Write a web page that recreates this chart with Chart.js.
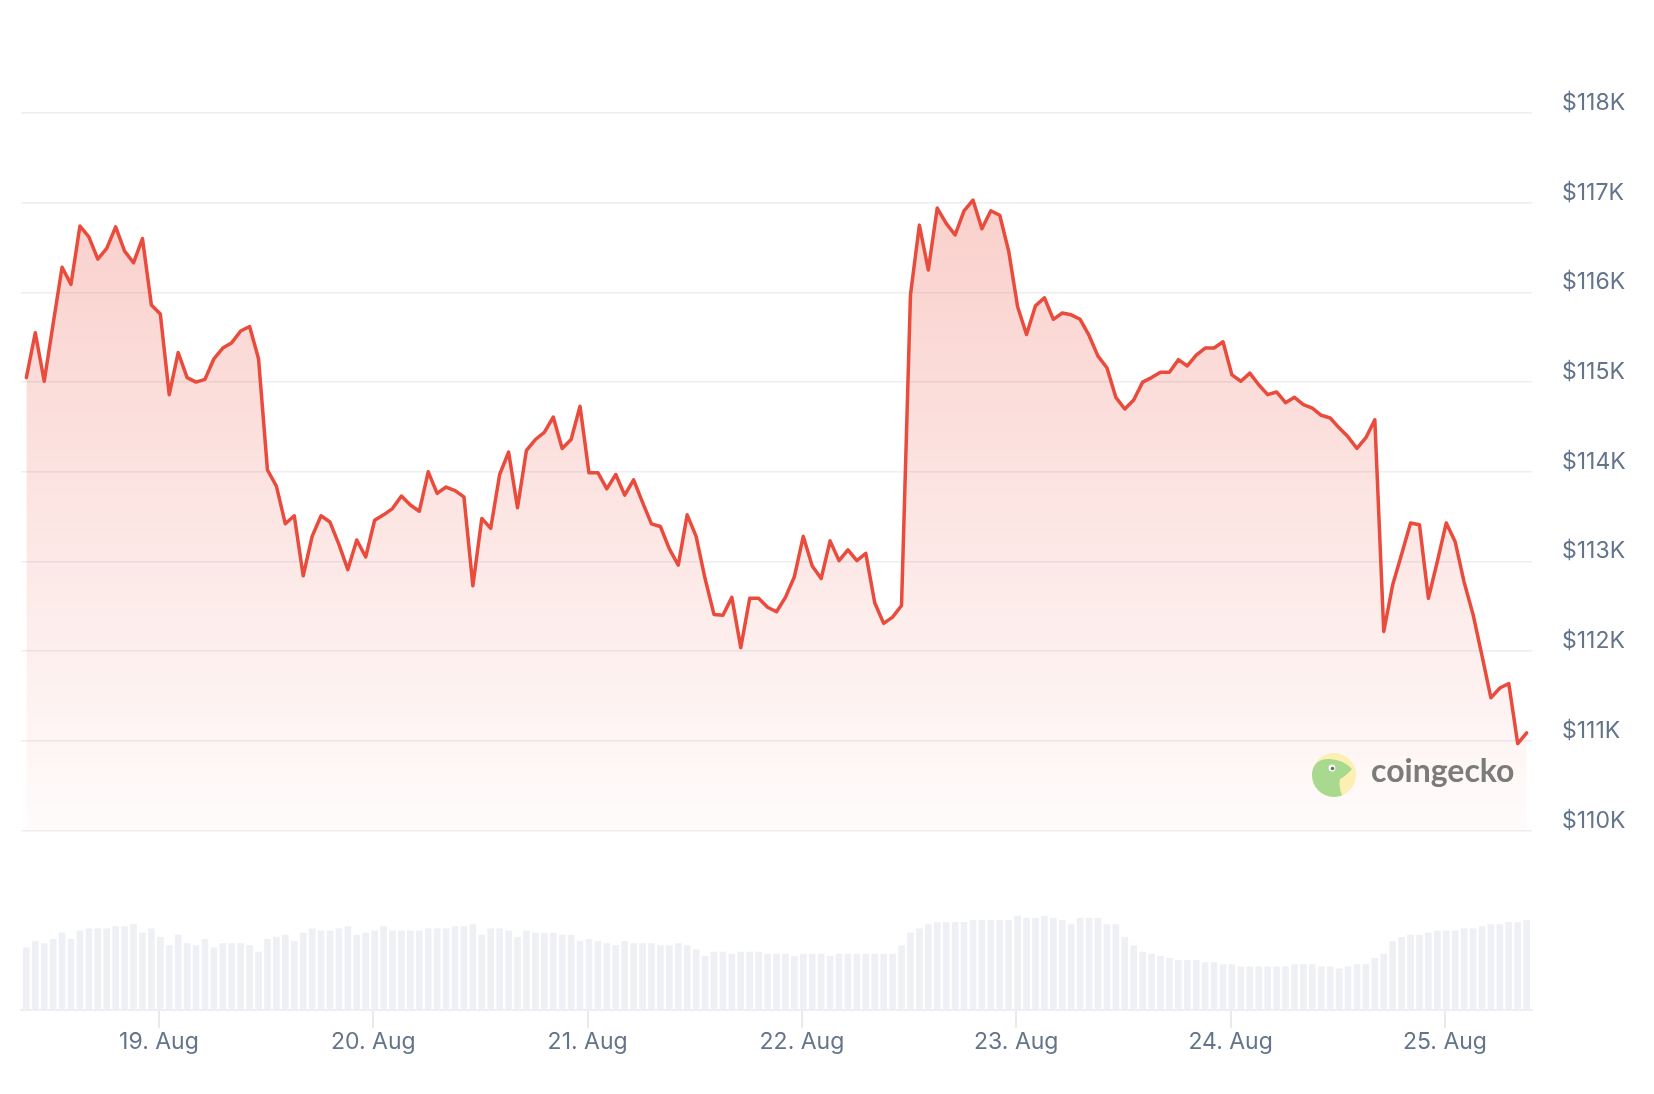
<!DOCTYPE html>
<html>
<head>
<meta charset="utf-8">
<script src="https://cdn.jsdelivr.net/npm/chart.js@4.4.1/dist/chart.umd.min.js"></script>
<style>
  html, body { margin: 0; padding: 0; background: #fff; }
  #myChart { display: block; }
</style>
</head>
<body>
<canvas id="myChart" width="1654" height="1094" style="width:1654px;height:1094px"></canvas>
<script>
// hours counted from 18 Aug 00:00, one point per hour
const startHour = 9.15;
const dayTicks = [24, 48, 72, 96, 120, 144, 168];
const dayLabels = ['19. Aug', '20. Aug', '21. Aug', '22. Aug', '23. Aug', '24. Aug', '25. Aug'];

// BTC price in $K, hourly
const priceK = [
  115.05,115.55,115.01,115.65,116.28,116.09,116.74,116.62,116.37,116.49,
  116.73,116.46,116.33,116.60,115.86,115.76,114.86,115.33,115.05,115.00,
  115.03,115.26,115.38,115.44,115.57,115.62,115.26,114.02,113.84,113.42,
  113.51,112.84,113.28,113.51,113.44,113.19,112.91,113.24,113.05,113.46,
  113.52,113.59,113.73,113.63,113.56,114.00,113.76,113.83,113.79,113.72,
  112.73,113.48,113.37,113.97,114.22,113.60,114.24,114.36,114.44,114.61,
  114.26,114.36,114.73,113.99,113.99,113.81,113.97,113.74,113.91,113.66,
  113.42,113.39,113.14,112.96,113.52,113.28,112.81,112.41,112.40,112.60,
  112.04,112.59,112.59,112.49,112.44,112.60,112.83,113.28,112.95,112.81,
  113.23,113.01,113.13,113.01,113.09,112.54,112.31,112.38,112.51,115.97,
  116.75,116.25,116.94,116.77,116.64,116.91,117.03,116.71,116.91,116.86,
  116.46,115.84,115.53,115.85,115.94,115.70,115.77,115.75,115.70,115.52,
  115.29,115.16,114.83,114.70,114.80,115.00,115.05,115.11,115.11,115.25,
  115.18,115.30,115.38,115.38,115.45,115.08,115.01,115.10,114.97,114.86,
  114.89,114.77,114.83,114.75,114.71,114.63,114.60,114.49,114.39,114.26,
  114.38,114.58,112.22,112.74,113.08,113.43,113.41,112.59,113.00,113.43,
  113.22,112.77,112.41,111.95,111.48,111.59,111.64,110.97,111.09
];

// 24h volume in $B, hourly
const volumeB = [
  59,65,63,67,73,67,75,77,77,77,
  79,79,81,73,77,69,61,71,63,61,
  67,59,63,63,63,61,55,67,69,71,
  65,73,77,75,75,77,79,71,73,75,
  79,75,75,75,75,77,77,77,79,79,
  81,71,77,77,75,69,75,73,73,73,
  71,71,65,67,65,63,61,65,63,63,
  63,61,61,63,61,57,51,55,55,53,
  55,55,55,53,53,53,51,53,53,53,
  51,53,53,53,53,53,53,53,61,73,
  77,81,83,83,83,83,85,85,85,85,
  85,89,87,87,89,87,85,81,87,87,
  87,81,81,69,61,55,53,51,49,47,
  47,47,45,45,43,43,41,41,41,41,
  41,41,43,43,43,41,41,39,41,43,
  43,49,53,65,69,71,71,73,75,75,
  75,77,77,79,81,81,83,83,85
];

const priceTicks = [110000, 111000, 112000, 113000, 114000, 115000, 116000, 117000, 118000];

const textColor = '#64748b';
const fontFamily = 'Inter, "Noto Sans", sans-serif';

const data = {
  datasets: [
    {
      type: 'line',
      label: 'Price',
      data: priceK.map((p, i) => ({ x: startHour + i, y: p * 1000 })),
      yAxisID: 'y',
      borderColor: '#e94b3c',
      borderWidth: 3.5,
      borderJoinStyle: 'round',
      borderCapStyle: 'round',
      pointRadius: 0,
      tension: 0,
      fill: { value: 110000 },
      backgroundColor: (ctx) => {
        const chart = ctx.chart;
        const { chartArea, scales } = chart;
        if (!chartArea) return 'rgba(234,76,60,0.15)';
        const g = chart.ctx.createLinearGradient(0, scales.y.getPixelForValue(117200), 0, scales.y.getPixelForValue(110000));
        g.addColorStop(0, 'rgba(234,76,60,0.27)');
        g.addColorStop(1, 'rgba(234,76,60,0.02)');
        return g;
      },
      order: 1
    },
    {
      type: 'bar',
      label: 'Volume',
      data: volumeB.map((v, i) => ({ x: startHour + i, y: v })),
      yAxisID: 'yv',
      backgroundColor: '#eff0f5',
      barThickness: 6,
      order: 2
    }
  ]
};

//----logo watermark----
const geckoMark = {
  id: 'geckoMark',
  afterDatasetsDraw(chart) {
    const { ctx } = chart;
    const cx = 1334, cy = 775, r = 22;
    ctx.save();
    ctx.beginPath();
    ctx.arc(cx, cy, r, 0, Math.PI * 2);
    ctx.fillStyle = '#fbefb2';
    ctx.fill();
    ctx.save();
    ctx.clip();
    // gecko head
    ctx.beginPath();
    ctx.moveTo(cx - 24, cy + 24);
    ctx.lineTo(cx - 22, cy - 4);
    ctx.quadraticCurveTo(cx - 18, cy - 17, cx - 4, cy - 16);
    ctx.quadraticCurveTo(cx + 10, cy - 15, cx + 18, cy - 6);
    ctx.quadraticCurveTo(cx + 12, cy + 1, cx + 6, cy + 4);
    ctx.quadraticCurveTo(cx + 4, cy + 14, cx + 10, cy + 24);
    ctx.closePath();
    ctx.fillStyle = '#a9d98e';
    ctx.fill();
    ctx.restore();
    ctx.beginPath();
    ctx.arc(cx - 2, cy - 7, 3.4, 0, Math.PI * 2);
    ctx.fillStyle = '#ffffff';
    ctx.fill();
    ctx.beginPath();
    ctx.arc(cx - 1.5, cy - 6.5, 1.8, 0, Math.PI * 2);
    ctx.fillStyle = '#6a6a6a';
    ctx.fill();
    ctx.fillStyle = '#7b7b7b';
    ctx.font = 'bold 32px Lato, "Noto Sans", sans-serif';
    ctx.textBaseline = 'middle';
    ctx.textAlign = 'left';
    ctx.fillText('coingecko', 1371, 772);
    ctx.restore();
  }
};

const config = {
  type: 'line',
  data,
  options: {
    responsive: false,
    animation: false,
    layout: { padding: { top: 113, left: 21, right: 0, bottom: 0 } },
    scales: {
      x: {
        type: 'linear',
        min: 8.55,
        max: 177.75,
        offset: false,
        afterBuildTicks: (scale) => { scale.ticks = dayTicks.map(v => ({ value: v })); },
        afterFit: (scale) => { scale.height = 84; },
        ticks: {
          autoSkip: false,
          maxRotation: 0,
          padding: 0,
          color: textColor,
          font: { family: fontFamily, size: 23 },
          callback: (v) => dayLabels[dayTicks.indexOf(v)]
        },
        grid: {
          drawOnChartArea: false,
          drawTicks: true,
          tickLength: 18,
          color: '#e8eaef',
          lineWidth: 2,
          offset: false
        },
        border: { display: true, color: '#eceef3', width: 2 }
      },
      y: {
        position: 'right',
        min: 108000,
        max: 118000,
        afterBuildTicks: (scale) => {
          scale.ticks = [108000, 109000].concat(priceTicks).map(v => ({ value: v }));
        },
        afterFit: (scale) => { scale.width = 122; },
        ticks: {
          padding: 30,
          labelOffset: -10,
          color: textColor,
          font: { family: fontFamily, size: 23 },
          callback: (v) => v < 110000 ? '' : '$' + (v / 1000) + 'K'
        },
        grid: {
          drawTicks: false,
          lineWidth: 1.5,
          color: (ctx) => (ctx.tick && ctx.tick.value >= 110000) ? '#ededf2' : 'rgba(0,0,0,0)'
        },
        border: { display: false }
      },
      yv: {
        display: false,
        position: 'left',
        min: 0,
        max: 850
      }
    },
    plugins: {
      legend: { display: false },
      tooltip: { enabled: false }
    }
  },
  plugins: [geckoMark]
};

const myChart = new Chart(document.getElementById('myChart'), config);
</script>
</body>
</html>
